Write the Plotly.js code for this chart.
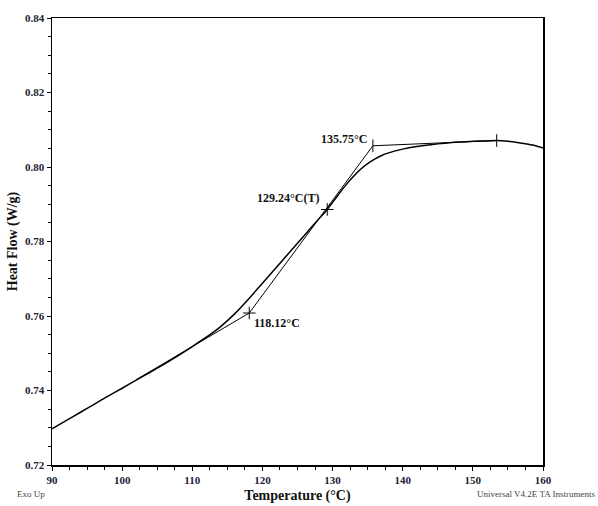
<!DOCTYPE html>
<html>
<head>
<meta charset="utf-8">
<script src="https://cdn.plot.ly/plotly-3.0.1.min.js"></script>
<style>html,body{margin:0;padding:0;background:#fff;}#chart{width:598px;height:506px;}</style>
</head>
<body>
<div id="chart"></div>
<script>
// DSC curve (Temperature °C vs Heat Flow W/g)
var tempC = [90, 92, 94, 96, 98, 100, 102, 104, 106, 108, 110, 112, 114, 116, 118, 120, 122, 124, 126, 128, 129.24, 130, 131, 132, 133, 134, 135, 136, 137, 138, 140, 142, 144, 146, 148, 150, 152, 153.4, 155, 157, 158.5, 160];
var heatFlow = [0.7297, 0.7319, 0.7341, 0.7363, 0.7385, 0.7406, 0.7428, 0.7449, 0.7471, 0.7494, 0.7518, 0.7543, 0.7571, 0.7605, 0.7645, 0.7688, 0.7731, 0.7774, 0.7817, 0.7860, 0.7886, 0.7905, 0.7930, 0.7954, 0.7975, 0.7994, 0.8009, 0.8021, 0.8031, 0.8038, 0.8048, 0.8055, 0.8060, 0.8064, 0.8067, 0.8069, 0.8070, 0.8071, 0.8069, 0.8064, 0.8059, 0.8051];

// Glass transition construction lines
var constructX = [102, 118.12, 135.75, 153.4];
var constructY = [0.7429, 0.7608, 0.8057, 0.8071];

// Marked points
var markX = [118.12, 129.24, 135.75, 153.4];
var markY = [0.7608, 0.7886, 0.8057, 0.8071];
var markLabels = ["118.12°C", "129.24°C(T)", "135.75°C", ""];

var serif = "Liberation Serif, Times New Roman, serif";

var traces = [
  {x: tempC, y: heatFlow, mode: "lines", line: {color: "#000", width: 1.5, shape: "spline", smoothing: 0.6}, hoverinfo: "skip"},
  {x: constructX, y: constructY, mode: "lines", line: {color: "#000", width: 1}, hoverinfo: "skip"},
  {x: [markX[0], markX[1]], y: [markY[0], markY[1]], mode: "markers", marker: {symbol: "cross-thin-open", size: 9, color: "#000", line: {width: 1, color: "#000"}}, hoverinfo: "skip"},
  {x: [markX[2], markX[3]], y: [markY[2], markY[3]], mode: "markers", marker: {symbol: "line-ns-open", size: 9, color: "#000", line: {width: 1, color: "#000"}}, hoverinfo: "skip"}
];

var labelFont = {family: serif, size: 12, color: "#111", weight: "bold"};
var annotations = [
  {x: markX[0], y: markY[0], text: "<b>" + markLabels[0] + "</b>", showarrow: false, xanchor: "left", yanchor: "top", xshift: 3, yshift: -1, font: labelFont},
  {x: markX[1], y: markY[1], text: "<b>" + markLabels[1] + "</b>", showarrow: false, xanchor: "right", yanchor: "bottom", xshift: -6, yshift: 2, font: labelFont},
  {x: markX[2], y: markY[2], text: "<b>" + markLabels[2] + "</b>", showarrow: false, xanchor: "right", yanchor: "bottom", xshift: -4, yshift: -2, font: labelFont},
  {xref: "paper", yref: "paper", x: -0.075, y: -0.065, text: "Exo Up", showarrow: false, xanchor: "left", yanchor: "middle", font: {family: serif, size: 9, color: "#444"}},
  {xref: "paper", yref: "paper", x: 1.11, y: -0.065, text: "Universal V4.2E TA Instruments", showarrow: false, xanchor: "right", yanchor: "middle", font: {family: serif, size: 9, color: "#444"}}
];

var layout = {
  width: 598, height: 506,
  margin: {l: 52, r: 55, t: 18, b: 41},
  paper_bgcolor: "#fff", plot_bgcolor: "#fff",
  showlegend: false,
  font: {family: serif, color: "#222"},
  xaxis: {
    range: [90, 160], dtick: 10, tick0: 90,
    showgrid: false, zeroline: false,
    showline: true, linecolor: "#000", linewidth: 1.5, mirror: true,
    ticks: "outside", ticklen: 4, tickwidth: 1, tickcolor: "#000",
    tickfont: {family: serif, size: 11, color: "#223", weight: "bold"},
    minor: {dtick: 2.5, ticks: "outside", ticklen: 3, tickcolor: "#000", showgrid: false},
    title: {text: "<b>Temperature (°C)</b>", font: {family: serif, size: 14, color: "#111"}, standoff: 5},
    automargin: false
  },
  yaxis: {
    range: [0.72, 0.84], dtick: 0.02, tick0: 0.72, tickformat: ".2f",
    showgrid: false, zeroline: false,
    showline: true, linecolor: "#000", linewidth: 1.5, mirror: true,
    ticks: "outside", ticklen: 4, tickwidth: 1, tickcolor: "#000",
    tickfont: {family: serif, size: 11, color: "#223", weight: "bold"},
    minor: {dtick: 0.005, ticks: "outside", ticklen: 3, tickcolor: "#000", showgrid: false},
    title: {text: "<b>Heat Flow (W/g)</b>", font: {family: serif, size: 14, color: "#111"}, standoff: 4},
    automargin: false
  },
  annotations: annotations
};

Plotly.newPlot("chart", traces, layout, {displayModeBar: false, staticPlot: true});
</script>
</body>
</html>
